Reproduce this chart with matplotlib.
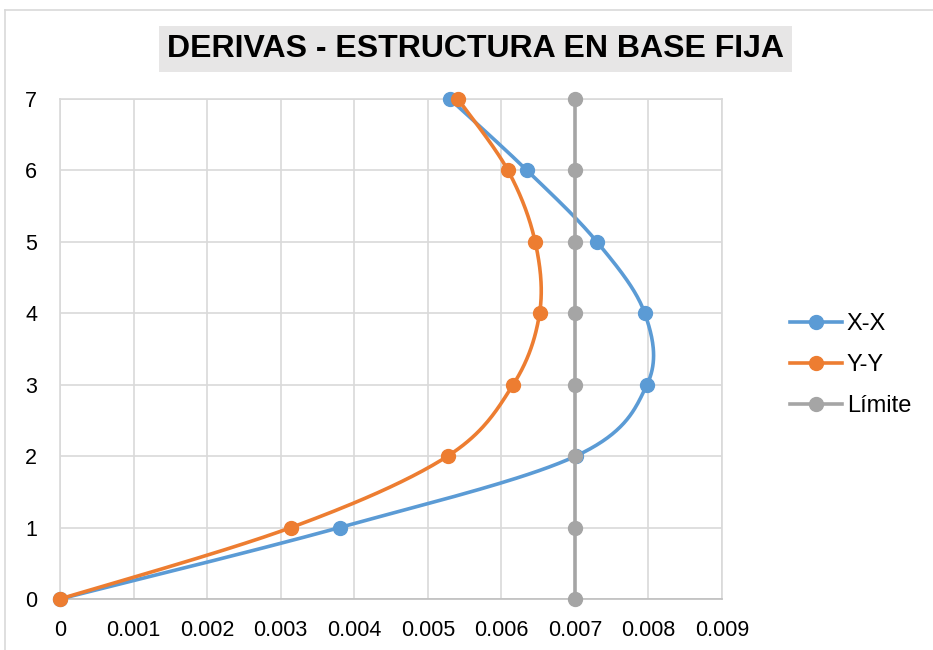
import numpy as np
import matplotlib
matplotlib.use("Agg")
import matplotlib.pyplot as plt
from matplotlib.lines import Line2D

plt.rcParams['font.family'] = ['Liberation Sans', 'DejaVu Sans']

# Storey drift data
pisos = [0, 1, 2, 3, 4, 5, 6, 7]
deriva_xx = [0.0, 0.0038, 0.00701, 0.00798, 0.00795, 0.0073, 0.00635, 0.0053]
deriva_yy = [0.0, 0.00314, 0.00527, 0.00616, 0.00652, 0.00646, 0.00609, 0.00541]
limite = [0.007] * 8
x_ticks = [0, 0.001, 0.002, 0.003, 0.004, 0.005, 0.006, 0.007, 0.008, 0.009]
x_tick_labels = ["0", "0.001", "0.002", "0.003", "0.004", "0.005", "0.006", "0.007", "0.008", "0.009"]
y_ticks = [0, 1, 2, 3, 4, 5, 6, 7]

BLUE = "#5B9BD5"
ORANGE = "#ED7D31"
GRAY = "#A5A5A5"
GRID = "#D9D9D9"

fig = plt.figure(figsize=(9.33, 6.5), dpi=100)
ax = fig.add_axes([60 / 933, 1 - 599 / 650, (722 - 60) / 933, (599 - 99) / 650])
ax.set_xlim(0, 0.009)
ax.set_ylim(0, 7)


def smooth(ax, xs, ys, n=40):
    """Catmull-Rom style Bezier smoothing computed in display space."""
    pts = ax.transData.transform(np.column_stack([xs, ys]))
    m = len(pts)
    out = [pts[0]]
    t = np.linspace(0, 1, n)[1:]
    for i in range(m - 1):
        p0 = pts[i]
        p3 = pts[i + 1]
        pm = pts[i - 1] if i > 0 else pts[i]
        pp = pts[i + 2] if i + 2 < m else pts[i + 1]
        c1 = p0 + (p3 - pm) / 6.0
        c2 = p3 - (pp - p0) / 6.0
        for tt in t:
            b = ((1 - tt) ** 3) * p0 + 3 * ((1 - tt) ** 2) * tt * c1 \
                + 3 * (1 - tt) * tt ** 2 * c2 + tt ** 3 * p3
            out.append(b)
    out = np.array(out)
    return ax.transData.inverted().transform(out)


for xs, col, lab in [(deriva_xx, BLUE, "X-X"), (deriva_yy, ORANGE, "Y-Y"), (limite, GRAY, "Límite")]:
    curve = smooth(ax, xs, pisos)
    ax.plot(curve[:, 0], curve[:, 1], color=col, lw=2.6, solid_capstyle="round", clip_on=False, zorder=3)
    ax.plot(xs, pisos, linestyle="none", marker="o", ms=10, color=col, clip_on=False, zorder=3, label=lab)

ax.set_xticks(x_ticks)
ax.set_xticklabels(x_tick_labels)
ax.set_yticks(y_ticks)
ax.grid(True, color=GRID, lw=1.2, zorder=0)
ax.set_axisbelow(True)
for s in ax.spines.values():
    s.set_color(GRID)
    s.set_linewidth(1.2)
ax.spines['bottom'].set_color("#BFBFBF")
ax.tick_params(axis="both", length=0, labelsize=15.5, colors="black")
ax.tick_params(axis="x", pad=15)
ax.tick_params(axis="y", pad=16.5)

handles = [Line2D([0], [0], color=c, lw=2.6, marker="o", ms=10) for c in (BLUE, ORANGE, GRAY)]
fig.legend(handles, ["X-X", "Y-Y", "Límite"], loc="center left",
           bbox_to_anchor=(790 / 933, 1 - 365 / 650), frameon=False, fontsize=17,
           handlelength=2.2, handletextpad=0.2, labelspacing=0.8, borderaxespad=0,
           borderpad=0)

fig.text(475.5 / 933, 1 - 49 / 650, "DERIVAS - ESTRUCTURA EN BASE FIJA",
         ha="center", va="center", fontsize=23, fontweight="bold",
         bbox=dict(boxstyle="square,pad=0.25", facecolor="#E7E6E6", edgecolor="none"))

# outer chart-area border
fig.add_artist(Line2D([5 / 933, 5 / 933], [0, 1 - 10 / 650], transform=fig.transFigure, color="#D9D9D9", lw=1.2))
fig.add_artist(Line2D([5 / 933, 1], [1 - 10 / 650, 1 - 10 / 650], transform=fig.transFigure, color="#D9D9D9", lw=1.2))

fig.savefig("out.png", dpi=100)
